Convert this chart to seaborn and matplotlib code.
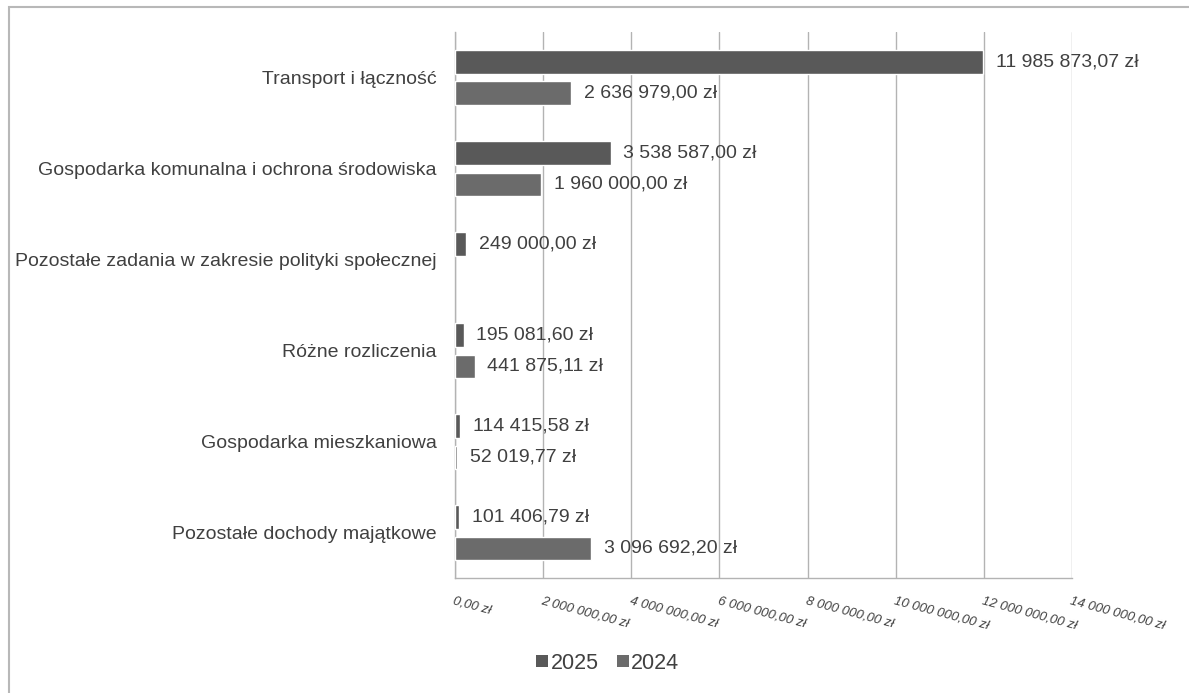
import matplotlib.pyplot as plt
import matplotlib.patches as mpatches
from matplotlib.lines import Line2D
from matplotlib.ticker import FuncFormatter, FixedLocator
import pandas as pd
import seaborn as sns

categories = [
    'Transport i łączność',
    'Gospodarka komunalna i ochrona środowiska',
    'Pozostałe zadania w zakresie polityki społecznej',
    'Różne rozliczenia',
    'Gospodarka mieszkaniowa',
    'Pozostałe dochody majątkowe',
]
values_2025 = [11985873.07, 3538587.00, 249000.00, 195081.60, 114415.58, 101406.79]
values_2024 = [2636979.00, 1960000.00, None, 441875.11, 52019.77, 3096692.20]
years = ['2025', '2024']
colors = ['#595959', '#6b6b6b']
x_ticks = [0, 2e6, 4e6, 6e6, 8e6, 10e6, 12e6, 14e6]

TEXT = '#404040'
GRID = '#b3b3b3'


def pln(v):
    s = f'{v:,.2f}'.replace(',', ' ').replace('.', ',')
    return s + ' zł'


rows = []
for year, vals in zip(years, [values_2025, values_2024]):
    for cat, v in zip(categories, vals):
        if v is not None:
            rows.append({'kategoria': cat, 'rok': year, 'kwota': v})
df = pd.DataFrame(rows)

sns.set_style('white')
plt.rcParams['font.family'] = ['Liberation Sans', 'DejaVu Sans']

fig = plt.figure(figsize=(11.89, 6.93), dpi=100)
ax = fig.add_axes([0.3827, 0.1659, 0.5189, 0.7879])

sns.barplot(data=df, y='kategoria', x='kwota', hue='rok',
            order=categories, hue_order=years, palette=colors,
            orient='h', width=0.70, gap=0.25, errorbar=None,
            legend=False, ax=ax, zorder=3)

for cont in ax.containers:
    ax.bar_label(cont, labels=[pln(v) for v in cont.datavalues],
                 padding=9, fontsize=14, color=TEXT)

ax.set_xlim(0, 14e6)
ax.set_xticks(x_ticks)
ax.xaxis.set_major_formatter(FuncFormatter(lambda v, p: pln(v)))
for lab in ax.get_xticklabels():
    lab.set_rotation(-15)
    lab.set_ha('left')
    lab.set_va('top')
    lab.set_rotation_mode('anchor')
    lab.set_fontstyle('italic')
    lab.set_fontsize(9.5)
    lab.set_color(TEXT)
ax.tick_params(axis='x', length=5, width=1, color=GRID, direction='out', pad=7)

ax.tick_params(axis='y', which='major', length=0, pad=13, labelsize=14,
               labelcolor=TEXT)
ax.yaxis.set_minor_locator(FixedLocator([i - 0.5 for i in range(len(categories) + 1)]))
ax.tick_params(axis='y', which='minor', length=5, width=1, color=GRID,
               direction='out')

ax.grid(axis='x', color=GRID, linewidth=1, zorder=0)
ax.grid(axis='y', visible=False)
ax.set_xlabel('')
ax.set_ylabel('')
for side in ['top', 'right']:
    ax.spines[side].set_visible(False)
for side in ['left', 'bottom']:
    ax.spines[side].set_color(GRID)
    ax.spines[side].set_linewidth(1)

handles = [Line2D([], [], marker='s', linestyle='', markersize=8,
                  color=c, markeredgewidth=0) for c in colors]
fig.legend(handles, years, loc='center', bbox_to_anchor=(0.511, 0.043),
           ncol=2, frameon=False, fontsize=15.5, handlelength=0.6,
           handletextpad=0.1, columnspacing=0.8, labelcolor=TEXT)

frame = mpatches.Rectangle((9 / 1189, -0.1), 1.2, 1 - 7 / 693 + 0.1,
                           transform=fig.transFigure, fill=False,
                           edgecolor='#b8b8b8', linewidth=1.5)
fig.patches.append(frame)

fig.savefig('out.png', dpi=100)
